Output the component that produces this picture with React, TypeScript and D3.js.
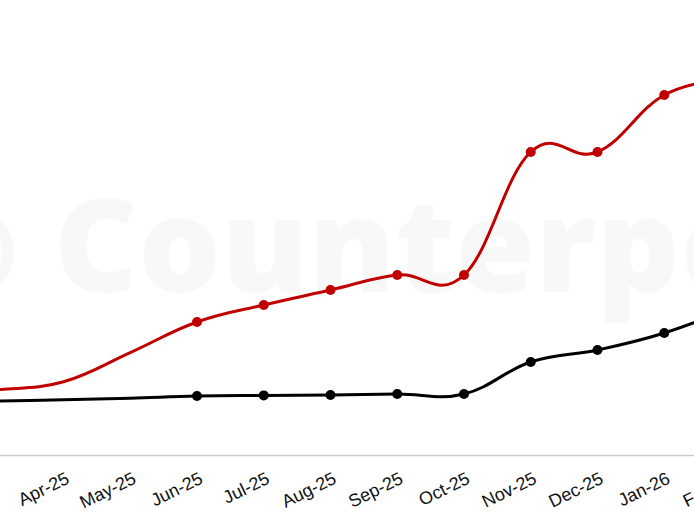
import React from "react";
import * as d3 from "d3";

const months = ["Feb-25","Mar-25","Apr-25","May-25","Jun-25","Jul-25","Aug-25","Sep-25","Oct-25","Nov-25","Dec-25","Jan-26","Feb-26"];
const tickLabels = ["Apr-25","May-25","Jun-25","Jul-25","Aug-25","Sep-25","Oct-25","Nov-25","Dec-25","Jan-26","Feb-26"];
const redSeries = [15.4, 16.3, 18.3, 25.6, 33.25, 37.5, 41.25, 45.0, 45.0, 75.75, 75.75, 90.0, 94.0];
const blackSeries = [13.2, 13.5, 13.8, 14.2, 14.75, 14.9, 15.0, 15.25, 15.25, 23.25, 26.25, 30.5, 36.75];
const markerShown = [false,false,false,false,true,true,true,true,true,true,true,true,true];

const W = 694, H = 532;

export default function App() {
  const x = d3.scalePoint<string>().domain(months).range([-70, 731]);
  const y = d3.scaleLinear().domain([0, 100]).range([455, 55]);
  const line = d3.line<number>()
    .x((_, i) => x(months[i]) as number)
    .y(d => y(d))
    .curve(d3.curveCardinal.tension(-0.2));
  const series = [
    { data: blackSeries, color: "#000000" },
    { data: redSeries, color: "#c00000" },
  ];
  return (
    <svg width={W} height={H} style={{ position: "absolute", left: 0, top: 0, background: "#fff" }}>
      <g fill="#f8f8f8">
        <circle cx={-32} cy={252} r={40} fill="none" stroke="#f8f8f8" strokeWidth={12} />
        <text x={54} y={292} fontFamily="'Open Sans', sans-serif" fontWeight={800} fontSize={130}>Counterpoint</text>
      </g>
      <line x1={0} x2={W} y1={455.5} y2={455.5} stroke="#cccccc" strokeWidth={1.5} />
      {series.map((s, si) => (
        <g key={si}>
          <path d={line(s.data) || ""} fill="none" stroke={s.color} strokeWidth={3} />
          {s.data.map((v, i) => markerShown[i] ? (
            <circle key={i} cx={x(months[i]) as number} cy={y(v)} r={5} fill={s.color} />
          ) : null)}
        </g>
      ))}
      {tickLabels.map((m) => (
        <text key={m}
          transform={`translate(${(x(m) as number) + 1.5},${471}) rotate(-26)`}
          textAnchor="end" dominantBaseline="hanging"
          fontFamily="'Liberation Sans', Arial, sans-serif" fontSize={18} fill="#111">
          {m}
        </text>
      ))}
    </svg>
  );
}
